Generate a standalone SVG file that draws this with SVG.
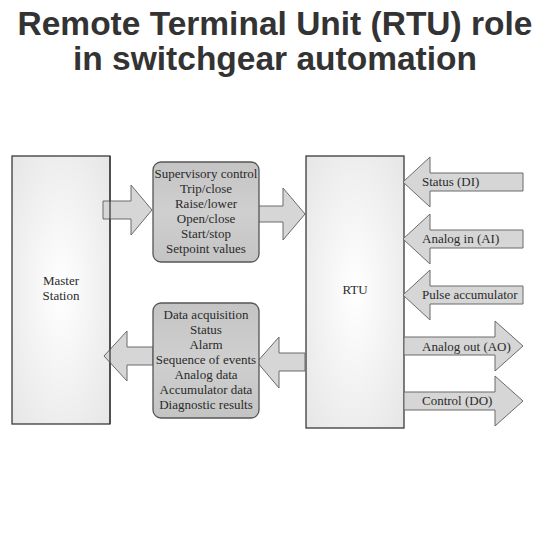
<svg xmlns="http://www.w3.org/2000/svg" width="550" height="550" viewBox="0 0 550 550">
<defs>
<radialGradient id="boxg" cx="0.5" cy="0.5" r="0.7">
<stop offset="0" stop-color="#ffffff"/>
<stop offset="1" stop-color="#e6e6e6"/>
</radialGradient>
<linearGradient id="txtg" x1="0" y1="0" x2="0" y2="1">
<stop offset="0" stop-color="#c4c4c4"/>
<stop offset="0.5" stop-color="#cfcfcf"/>
<stop offset="1" stop-color="#c4c4c4"/>
</linearGradient>
</defs>
<style>
.title{font-family:"Liberation Sans",Arial,sans-serif;font-weight:bold;font-size:33.5px;fill:#333333;text-anchor:middle}
.box{fill:url(#boxg);stroke:#3a3a3a;stroke-width:1.3}
.edge{fill:none;stroke:#3a3a3a;stroke-width:1.3}
.tbox{fill:url(#txtg);stroke:#555555;stroke-width:1.3}
.arrow{fill:#d6d6d6;stroke:#6a6a6a;stroke-width:1}
.lbl{font-family:"Liberation Serif","Times New Roman",serif;font-size:13px;fill:#2a2a2a}
.c{text-anchor:middle}
</style>
<rect width="550" height="550" fill="#ffffff"/>
<text class="title" x="275" y="35">Remote Terminal Unit (RTU) role</text>
<text class="title" x="275" y="70">in switchgear automation</text>

<g id="master">
<rect class="box" x="12" y="156" width="98" height="268"/>
<text class="lbl c" x="61" y="285">Master</text>
<text class="lbl c" x="61" y="300">Station</text>
</g>

<g id="rtu">
<rect class="box" x="306" y="156" width="98" height="272"/>
<text class="lbl c" x="355" y="294">RTU</text>
</g>

<g id="connectors">
<polygon class="arrow" points="103,201 131,201 131,185 152,210 131,235 131,219 103,219"/>
<polygon class="arrow" points="257,206 283,206 283,188 305,214 283,240 283,222 257,222"/>
<polygon class="arrow" points="153,347 127,347 127,331 104,356 127,381 127,365 153,365"/>
<polygon class="arrow" points="305,353 279,353 279,337 257,362 279,388 279,371 305,371"/>
<polygon class="arrow" points="523,173 430,173 430,157 403,182 430,207 430,191 523,191"/>
<polygon class="arrow" points="523,230 430,230 430,214 403,239 430,264 430,248 523,248"/>
<polygon class="arrow" points="523,286 430,286 430,270 403,295 430,320 430,304 523,304"/>
<polygon class="arrow" points="404,337 495,337 495,321 523,346 495,371 495,355 404,355"/>
<polygon class="arrow" points="404,392 495,392 495,376 523,401 495,426 495,410 404,410"/>
<line class="edge" x1="110" y1="156" x2="110" y2="424"/>
<text class="lbl" x="422" y="186">Status (DI)</text>
<text class="lbl" x="422" y="243">Analog in (AI)</text>
<text class="lbl" x="422" y="299">Pulse accumulator</text>
<text class="lbl" x="422" y="351">Analog out (AO)</text>
<text class="lbl" x="422" y="405">Control (DO)</text>
</g>

<g id="supervisory">
<rect class="tbox" x="153" y="162" width="106" height="100" rx="8"/>
<text class="lbl c" x="206" y="178">Supervisory control</text>
<text class="lbl c" x="206" y="193">Trip/close</text>
<text class="lbl c" x="206" y="208">Raise/lower</text>
<text class="lbl c" x="206" y="223">Open/close</text>
<text class="lbl c" x="206" y="238">Start/stop</text>
<text class="lbl c" x="206" y="253">Setpoint values</text>
</g>

<g id="acquisition">
<rect class="tbox" x="153" y="303" width="106" height="115" rx="8"/>
<text class="lbl c" x="206" y="319">Data acquisition</text>
<text class="lbl c" x="206" y="334">Status</text>
<text class="lbl c" x="206" y="349">Alarm</text>
<text class="lbl c" x="206" y="364">Sequence of events</text>
<text class="lbl c" x="206" y="379">Analog data</text>
<text class="lbl c" x="206" y="394">Accumulator data</text>
<text class="lbl c" x="206" y="409">Diagnostic results</text>
</g>
</svg>
